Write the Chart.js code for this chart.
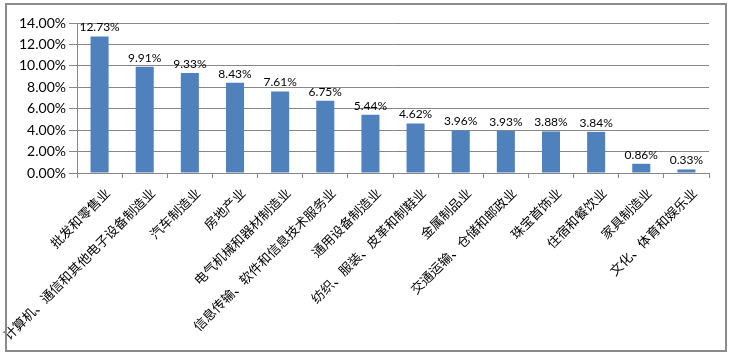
<!DOCTYPE html>
<html><head><meta charset="utf-8">
<script src="https://cdn.jsdelivr.net/npm/chart.js@4/dist/chart.umd.min.js"></script>
<style>html,body{margin:0;padding:0;background:#fff;}#wrap{width:734px;height:358px;position:relative;}</style>
</head><body><div id="wrap"><canvas id="c" width="734" height="358"></canvas></div>
<script>
const categories = ["批发和零售业","计算机、通信和其他电子设备制造业","汽车制造业","房地产业","电气机械和器材制造业","信息传输、软件和信息技术服务业","通用设备制造业","纺织、服装、皮革和制鞋业","金属制品业","交通运输、仓储和邮政业","珠宝首饰业","住宿和餐饮业","家具制造业","文化、体育和娱乐业"];
const values = [12.73, 9.91, 9.33, 8.43, 7.61, 6.75, 5.44, 4.62, 3.96, 3.93, 3.88, 3.84, 0.86, 0.33];
const yTicks = [0, 2, 4, 6, 8, 10, 12, 14];

const frame = {
  id: 'frame',
  afterDraw(chart) {
    const ctx = chart.ctx;
    ctx.save();
    ctx.strokeStyle = '#8a8a8a';
    ctx.lineWidth = 2;
    ctx.strokeRect(6, 4, 720, 347);
    ctx.restore();
  }
};
const dataLabels = {
  id: 'dataLabels',
  afterDatasetsDraw(chart) {
    const ctx = chart.ctx;
    const meta = chart.getDatasetMeta(0);
    ctx.save();
    ctx.font = '12px Lato, "Open Sans", sans-serif';
    ctx.fillStyle = '#000';
    ctx.textAlign = 'center';
    ctx.textBaseline = 'bottom';
    meta.data.forEach((bar, i) => {
      ctx.fillText(values[i].toFixed(2) + '%', bar.x, bar.y - 3);
    });
    ctx.restore();
  }
};

new Chart(document.getElementById('c'), {
  type: 'bar',
  data: { labels: categories, datasets: [{ data: values, backgroundColor: '#4F81BD', barPercentage: 0.8, categoryPercentage: 0.5 }] },
  options: {
    responsive: false, animation: false,
    layout: { padding: { left: 0, top: 23, right: 25, bottom: 0 } },
    plugins: { legend: { display: false }, tooltip: { enabled: false } },
    scales: {
      x: {
        grid: { display: true, drawOnChartArea: false, drawTicks: true, tickLength: 5, color: '#868686', offset: true },
        border: { display: true, color: '#868686' },
        ticks: { autoSkip: false, maxRotation: 45, minRotation: 45, color: '#000', padding: 7, labelOffset: 8,
          font: { family: '"Noto Sans CJK SC", sans-serif', size: 13 } },
        afterFit(s) { s.height = 185; s.paddingLeft = 0; s.paddingRight = 0; }
      },
      y: {
        min: 0, max: 14,
        afterBuildTicks(s) { s.ticks = yTicks.map(v => ({ value: v })); },
        grid: { color: '#868686', tickLength: 8 },
        border: { display: true, color: '#868686' },
        ticks: { color: '#000', padding: 3, font: { family: 'Lato, "Open Sans", sans-serif', size: 14 },
          callback: v => v.toFixed(2) + '%' },
        afterFit(s) { s.width = 77; s.paddingTop = 0; s.paddingBottom = 0; }
      }
    }
  },
  plugins: [frame, dataLabels]
});
</script></body></html>
